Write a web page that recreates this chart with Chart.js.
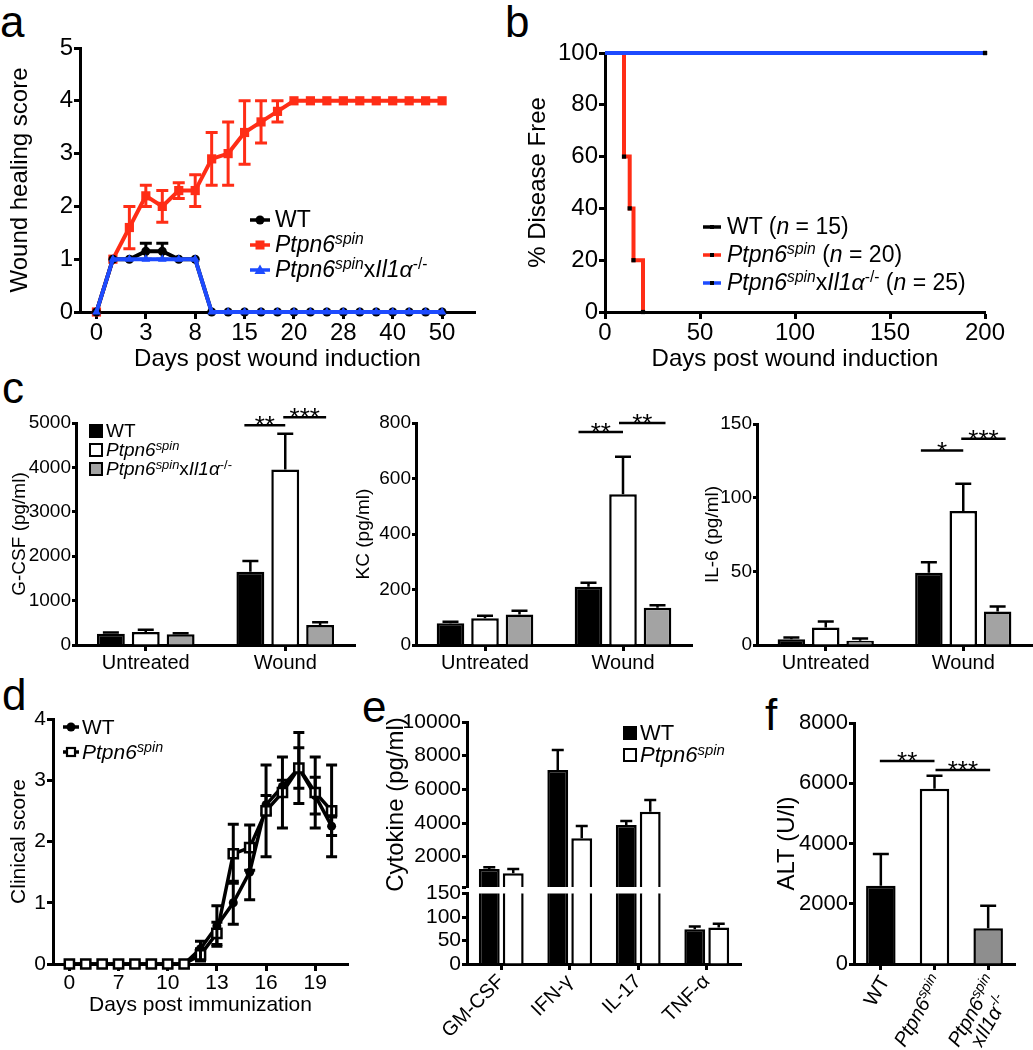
<!DOCTYPE html>
<html>
<head>
<meta charset="utf-8">
<title>Figure</title>
<script src="https://cdn.jsdelivr.net/npm/chart.js@4.4.1/dist/chart.umd.min.js"></script>
<style>
  body { margin: 0; width: 1033px; height: 1050px; position: relative; overflow: hidden; background: #fff;
         font-family: "Liberation Sans", Arial, Helvetica, sans-serif; color: #000; }
  canvas { position: absolute; }
  .letter { position: absolute; font-size: 44px; line-height: 44px; }
  .leg { position: absolute; white-space: nowrap; display: flex; align-items: center; }
  .leg sup { font-size: 0.68em; line-height: 0; vertical-align: 0.5em; }
  .box { display: inline-block; width: 10px; height: 10px; border: 2px solid #000; margin-right: 3px; }
</style>
</head>
<body>
<div class="letter" style="left:0px;top:0px">a</div>
<div class="letter" style="left:505px;top:0px">b</div>
<div class="letter" style="left:2px;top:366px">c</div>
<div class="letter" style="left:2px;top:673px">d</div>
<div class="letter" style="left:362px;top:685px">e</div>
<div class="letter" style="left:765px;top:693px">f</div>
<script>
const FONT = '"Liberation Sans", Arial, Helvetica, sans-serif';
const RED = '#ff2d16', BLUE = '#1d4bff', GREY = '#a3a3a3', DARKGREY = '#8e8e8e';

// a - wound healing score (x = measurement index, labelled with the day)
const woundDays = ['0','1','2','3','5','6','8','10','12','15','17','19','20','23','25','28','32','36','40','43','46','50'];
const woundTickIdx = [0, 3, 6, 9, 12, 15, 18, 21];
const wtScore      = [0, 1, 1, 1.15, 1.15, 1, 1, 0, 0, 0, 0, 0, 0, 0, 0, 0, 0, 0, 0, 0, 0, 0];
const wtScoreErr   = [0, 0, 0, 0.15, 0.15, 0, 0, 0, 0, 0, 0, 0, 0, 0, 0, 0, 0, 0, 0, 0, 0, 0];
const spinScore    = [0, 1, 1.6, 2.2, 2.0, 2.3, 2.3, 2.9, 3.0, 3.4, 3.6, 3.8, 4, 4, 4, 4, 4, 4, 4, 4, 4, 4];
const spinScoreErr = [0, 0, 0.4, 0.2, 0.3, 0.15, 0.3, 0.5, 0.6, 0.6, 0.4, 0.2, 0, 0, 0, 0, 0, 0, 0, 0, 0, 0];
const il1Score     = [0, 1, 1, 1, 1, 1, 1, 0, 0, 0, 0, 0, 0, 0, 0, 0, 0, 0, 0, 0, 0, 0];

// b - disease free survival
const kmWtDays = [0, 200],               kmWtFree = [100, 100];
const kmSpinDays = [0, 10, 13, 15, 20],  kmSpinFree = [100, 60, 40, 20, 0];
const kmIl1Days = [0, 200],              kmIl1Free = [100, 100];
const kmCounts = [15, 20, 25];

// c - cytokines after wounding
const treatments = ['Untreated', 'Wound'];
const gcsfWT = [255, 1650],  gcsfWTErr = [25, 240];
const gcsfSpin = [290, 3950], gcsfSpinErr = [55, 810];
const gcsfIl1 = [240, 450],  gcsfIl1Err = [25, 60];
const kcWT = [78, 210],      kcWTErr = [6, 14];
const kcSpin = [96, 543],    kcSpinErr = [9, 135];
const kcIl1 = [110, 134],    kcIl1Err = [13, 9];
const il6WT = [3.9, 49],     il6WTErr = [1.2, 7.2];
const il6Spin = [11.8, 91],  il6SpinErr = [4.1, 18.4];
const il6Il1 = [2.9, 22.7],  il6Il1Err = [1.5, 3.4];

// d - EAE clinical score
const immDays = ['0','3','5','7','8','9','10','11','12','13','14','15','16','17','18','19','20'];
const immTickIdx = [0, 3, 6, 9, 12, 15];
const wtClin      = [0, 0, 0, 0, 0, 0, 0, 0, 0.25, 0.62, 1.0, 1.5, 2.6, 2.9, 3.2, 2.75, 2.25];
const wtClinErr   = [0, 0, 0, 0, 0, 0, 0, 0, 0.12, 0.33, 0.35, 0.45, 0.15, 0.1, 0.33, 0.3, 0.15];
const spinClin    = [0, 0, 0, 0, 0, 0, 0, 0, 0.15, 0.5, 1.8, 1.9, 2.5, 2.8, 3.2, 2.8, 2.5];
const spinClinErr = [0, 0, 0, 0, 0, 0, 0, 0, 0.1, 0.18, 0.48, 0.37, 0.75, 0.58, 0.58, 0.58, 0.75];

// e - cytokines (broken axis)
const cytokines = ['GM-CSF', 'IFN-γ', 'IL-17', 'TNF-α'];
const cytoWT = [1270, 7150, 3880, 74],   cytoWTErr = [100, 1190, 240, 6];
const cytoSpin = [1010, 3090, 4670, 78], cytoSpinErr = [260, 730, 700, 8];
const cytoUpperTicks = [200, 2000, 4000, 6000, 8000, 10000];

// f - ALT
const altGroups = ['WT', '<i>Ptpn6<sup>spin</sup></i>', '<i>Ptpn6<sup>spin</sup></i><br>x<i>Il1α</i><sup>-/-</sup>'];
const altValues = [2600, 5820, 1190];
const altErr = [1050, 430, 740];

const groupHtml = ['WT', '<i>Ptpn6<sup>spin</sup></i>', '<i>Ptpn6<sup>spin</sup></i>x<i>Il1α</i><sup>-/-</sup>'];

Chart.defaults.font.family = FONT;
Chart.defaults.color = '#000';
Chart.defaults.animation = false;
Chart.defaults.events = [];
Chart.defaults.plugins.legend.display = false;
Chart.defaults.plugins.tooltip.enabled = false;

// error bars, drawn right after their own dataset
const errorBars = {
  id: 'errorBars',
  afterDatasetDraw(chart, args) {
    const ds = chart.data.datasets[args.index];
    if (!ds.errors) return;
    const meta = args.meta, ys = chart.scales[meta.yAxisID], ctx = chart.ctx;
    ctx.save();
    ctx.strokeStyle = ds.errorColor || '#000';
    ctx.lineWidth = ds.errorWidth || 2.5;
    meta.data.forEach((el, i) => {
      const d = ds.data[i];
      const v = typeof d === 'object' ? d.y : d;
      const e = ds.errors[i];
      if (!e || v < ys.min || v > ys.max) return;
      const top = ys.getPixelForValue(v + e);
      const bot = ys.getPixelForValue(ds.errorBoth ? v - e : v);
      const c = (ds.errorCap || 12) / 2;
      ctx.beginPath();
      ctx.moveTo(el.x, top); ctx.lineTo(el.x, bot);
      ctx.moveTo(el.x - c, top); ctx.lineTo(el.x + c, top);
      if (ds.errorBoth) { ctx.moveTo(el.x - c, bot); ctx.lineTo(el.x + c, bot); }
      ctx.stroke();
    });
    ctx.restore();
  }
};

// significance lines with stars
function sigPlugin(items) {
  return {
    id: 'sig',
    afterDraw(chart) {
      const ctx = chart.ctx, ys = chart.scales.y;
      ctx.save();
      ctx.strokeStyle = '#000'; ctx.fillStyle = '#000'; ctx.lineWidth = 2.5;
      ctx.textAlign = 'center'; ctx.textBaseline = 'alphabetic';
      ctx.font = '26px ' + FONT;
      items.forEach(s => {
        const a = chart.getDatasetMeta(s.a[0]).data[s.a[1]];
        const b = chart.getDatasetMeta(s.b[0]).data[s.b[1]];
        const x1 = a.x + s.pad[0], x2 = b.x + s.pad[1], py = ys.getPixelForValue(s.y);
        ctx.beginPath(); ctx.moveTo(x1, py); ctx.lineTo(x2, py); ctx.stroke();
        ctx.fillText(s.text, (x1 + x2) / 2, py + 9);
      });
      ctx.restore();
    }
  };
}

// tiny rich text helpers (italic / superscript) for canvas labels
function runsOf(html) {
  const div = document.createElement('div');
  div.innerHTML = html;
  const runs = [];
  (function walk(node, it, sup) {
    node.childNodes.forEach(n => {
      if (n.nodeType === 3) runs.push({ t: n.textContent, it, sup });
      else walk(n, it || n.tagName === 'I', sup || n.tagName === 'SUP');
    });
  })(div, false, false);
  return runs;
}
const runFont = (r, size) => (r.it ? 'italic ' : '') + (r.sup ? Math.round(size * 0.68) : size) + 'px ' + FONT;
function runsWidth(ctx, runs, size) {
  let w = 0;
  runs.forEach(r => { ctx.font = runFont(r, size); w += ctx.measureText(r.t).width; });
  return w;
}
function drawRuns(ctx, runs, x, y, size) {
  runs.forEach(r => {
    ctx.font = runFont(r, size);
    ctx.fillText(r.t, x, r.sup ? y - size * 0.38 : y);
    x += ctx.measureText(r.t).width;
  });
}

function makeCanvas(left, top, w, h) {
  const c = document.createElement('canvas');
  c.width = w; c.height = h;
  c.style.left = left + 'px'; c.style.top = top + 'px';
  c.style.width = w + 'px'; c.style.height = h + 'px';
  document.body.appendChild(c);
  return c;
}

function linY(o) {
  return {
    type: 'linear', min: o.min, max: o.max,
    afterFit: s => { s.width = o.w; },
    afterBuildTicks: o.ticks ? (s => { s.ticks = o.ticks.map(v => ({ value: v })); }) : undefined,
    ticks: { stepSize: o.step, font: { size: o.font }, padding: 1, autoSkip: false, callback: o.cb || (v => String(v)) },
    grid: { drawOnChartArea: false, tickLength: o.tick || 5, tickWidth: 3, tickColor: '#000' },
    border: { color: '#000', width: 3 },
    title: { display: !!o.title, text: o.title || '', font: { size: o.titleFont || o.font }, padding: { top: 4, bottom: 4 } }
  };
}

function idxX(o) {
  return {
    type: 'linear', min: o.min, max: o.max,
    afterFit: s => { s.height = o.h; },
    afterBuildTicks: s => { s.ticks = o.at.map(v => ({ value: v })); },
    ticks: { font: { size: o.font }, padding: 0, autoSkip: false, maxRotation: 0, callback: v => o.labels[v] },
    grid: { drawOnChartArea: false, tickLength: 7, tickWidth: 3, tickColor: '#000' },
    border: { color: '#000', width: 3 },
    title: { display: true, text: o.title, font: { size: o.font }, padding: { top: 4, bottom: 4 } }
  };
}

function catX(o) {
  return {
    type: 'category', display: o.display !== false,
    afterFit: s => { s.height = o.h; },
    grid: { offset: false, drawOnChartArea: false, tickLength: 6, tickWidth: 3, tickColor: '#000' },
    border: { color: '#000', width: 3 },
    ticks: { display: o.labels !== false, font: { size: o.font || 20 }, padding: 0, autoSkip: false,
             minRotation: o.rot || 0, maxRotation: o.rot || 0 }
  };
}

const pts = arr => arr.map((y, i) => ({ x: i, y }));

// ---------- a ----------
new Chart(makeCanvas(0, 0, 500, 378), {
  type: 'line',
  data: { datasets: [
    { data: pts(wtScore), errors: wtScoreErr, errorBoth: true, errorCap: 12, errorWidth: 3, errorColor: '#000',
      borderColor: '#000', borderWidth: 4, pointStyle: 'circle', pointRadius: 4.5, pointBorderWidth: 0,
      pointBackgroundColor: '#000', order: 1, clip: false },
    { data: pts(spinScore), errors: spinScoreErr, errorBoth: true, errorCap: 12, errorWidth: 3, errorColor: RED,
      borderColor: RED, borderWidth: 4, pointStyle: 'rect', pointRadius: 6.5, pointBorderWidth: 0,
      pointBackgroundColor: RED, order: 2, clip: false },
    { data: pts(il1Score), borderColor: BLUE, borderWidth: 4, pointStyle: 'triangle', pointRadius: 5,
      pointBorderWidth: 0, pointBackgroundColor: BLUE, order: 0, clip: false }
  ]},
  options: {
    responsive: false,
    layout: { padding: { top: 48, left: 2, right: 25, bottom: 0 } },
    scales: {
      x: idxX({ min: -1, max: 23, h: 66, at: woundTickIdx, labels: woundDays, font: 24, title: 'Days post wound induction' }),
      y: linY({ min: 0, max: 5, step: 1, w: 78, font: 24, title: 'Wound healing score', tick: 6 })
    }
  },
  plugins: [errorBars]
});

// ---------- b ----------
const kmSet = (days, free, color, order, marks) => ({
  data: days.map((x, i) => ({ x, y: free[i] })), stepped: 'before', borderColor: color, borderWidth: 4,
  pointStyle: 'rect', pointRadius: marks, pointBackgroundColor: '#000', pointBorderWidth: 0, order, clip: false
});
new Chart(makeCanvas(520, 0, 513, 378), {
  type: 'line',
  data: { datasets: [
    kmSet(kmWtDays, kmWtFree, '#000', 1, [0, 3]),
    kmSet(kmSpinDays, kmSpinFree, RED, 2, [0, 3, 3, 3, 3]),
    kmSet(kmIl1Days, kmIl1Free, BLUE, 0, [0, 3])
  ]},
  options: {
    responsive: false,
    layout: { padding: { top: 53, left: 0, right: 48, bottom: 0 } },
    scales: {
      x: { type: 'linear', min: 0, max: 200,
           afterFit: s => { s.height = 66; },
           ticks: { stepSize: 50, font: { size: 24 }, padding: 0 },
           grid: { drawOnChartArea: false, tickLength: 7, tickWidth: 3, tickColor: '#000' },
           border: { color: '#000', width: 3 },
           title: { display: true, text: 'Days post wound induction', font: { size: 24 }, padding: { top: 4, bottom: 4 } } },
      y: linY({ min: 0, max: 100, step: 20, w: 85, font: 24, title: '% Disease Free', tick: 6 })
    }
  }
});

// ---------- c ----------
const barSet = (values, errs, fill, cap, cp, bp) => ({
  data: values, errors: errs, errorCap: cap, errorWidth: 2.5, errorColor: '#000',
  backgroundColor: fill, borderColor: '#000', borderWidth: 2.5, categoryPercentage: cp, barPercentage: bp
});
function cytoPanel(g, wt, wtE, sp, spE, il, ilE, yMax, yStep, title, sig) {
  new Chart(makeCanvas(g.left, g.top, g.w, g.h), {
    type: 'bar',
    data: { labels: treatments, datasets: [
      barSet(wt, wtE, '#000', 16, 0.75, 0.8),
      barSet(sp, spE, '#fff', 16, 0.75, 0.8),
      barSet(il, ilE, GREY, 16, 0.75, 0.8)
    ]},
    options: {
      responsive: false,
      layout: { padding: g.pad },
      scales: {
        x: catX({ h: 40, font: 20 }),
        y: linY({ min: 0, max: yMax, step: yStep, w: g.yw, font: 19, title, tick: 4 })
      }
    },
    plugins: [errorBars, sigPlugin(sig)]
  });
}
cytoPanel({ left: 0, top: 380, w: 360, h: 305, yw: 72, pad: { top: 43, left: 4, right: 5, bottom: 0 } },
  gcsfWT, gcsfWTErr, gcsfSpin, gcsfSpinErr, gcsfIl1, gcsfIl1Err, 5000, 1000, 'G-CSF (pg/ml)',
  [{ a: [0, 1], b: [1, 1], y: 4950, text: '**', pad: [-6, 0] },
   { a: [1, 1], b: [2, 1], y: 5130, text: '***', pad: [-2, 6] }]);
cytoPanel({ left: 348, top: 380, w: 349, h: 305, yw: 68, pad: { top: 43, left: 0, right: 5, bottom: 0 } },
  kcWT, kcWTErr, kcSpin, kcSpinErr, kcIl1, kcIl1Err, 800, 200, 'KC (pg/ml)',
  [{ a: [0, 1], b: [1, 1], y: 768, text: '**', pad: [-10, 0] },
   { a: [1, 1], b: [2, 1], y: 800, text: '**', pad: [-4, 8] }]);
cytoPanel({ left: 697, top: 380, w: 336, h: 305, yw: 60, pad: { top: 44, left: 0, right: 1, bottom: 0 } },
  il6WT, il6WTErr, il6Spin, il6SpinErr, il6Il1, il6Il1Err, 150, 50, 'IL-6 (pg/ml)',
  [{ a: [0, 1], b: [1, 1], y: 132, text: '*', pad: [-8, 0] },
   { a: [1, 1], b: [2, 1], y: 140, text: '***', pad: [-2, 8] }]);

// ---------- d ----------
new Chart(makeCanvas(0, 690, 360, 332), {
  type: 'line',
  data: { datasets: [
    { data: pts(wtClin), errors: wtClinErr, errorBoth: true, errorCap: 11, errorWidth: 3, errorColor: '#000',
      borderColor: '#000', borderWidth: 3.5, pointStyle: 'circle', pointRadius: 4.5, pointBorderWidth: 0,
      pointBackgroundColor: '#000', order: 1, clip: false },
    { data: pts(spinClin), errors: spinClinErr, errorBoth: true, errorCap: 11, errorWidth: 3, errorColor: '#000',
      borderColor: '#000', borderWidth: 3.5, pointStyle: 'rect', pointRadius: 6.5, pointBorderWidth: 2.5,
      pointBorderColor: '#000', pointBackgroundColor: '#fff', order: 0, clip: false }
  ]},
  options: {
    responsive: false,
    layout: { padding: { top: 29, left: 3, right: 12, bottom: 0 } },
    scales: {
      x: idxX({ min: -1, max: 17, h: 58, at: immTickIdx, labels: immDays, font: 21, title: 'Days post immunization' }),
      y: linY({ min: 0, max: 4, step: 1, w: 50, font: 21, title: 'Clinical score', tick: 6 })
    }
  },
  plugins: [errorBars]
});

// ---------- e (two stacked charts make the broken axis) ----------
const eSets = () => [
  Object.assign(barSet(cytoWT, cytoWTErr, '#000', 12, 0.7, 0.87), { clip: 0 }),
  Object.assign(barSet(cytoSpin, cytoSpinErr, '#fff', 12, 0.7, 0.87), { clip: 0 })
];
new Chart(makeCanvas(378, 690, 382, 222), {
  type: 'bar',
  data: { labels: cytokines, datasets: eSets() },
  options: {
    responsive: false,
    layout: { padding: { top: 32, left: 0, right: 19, bottom: 25 } },
    scales: {
      x: catX({ display: false, h: 0 }),
      y: linY({ min: 200, max: 10000, w: 89, font: 21, title: 'Cytokine (pg/ml)', titleFont: 24, tick: 5,
                ticks: cytoUpperTicks, cb: v => (v === cytoUpperTicks[0] ? '' : String(v)) })
    }
  },
  plugins: [errorBars]
});
new Chart(makeCanvas(378, 880, 382, 170), {
  type: 'bar',
  data: { labels: cytokines, datasets: eSets() },
  options: {
    responsive: false,
    layout: { padding: { top: 13, left: 0, right: 19, bottom: 0 } },
    scales: {
      x: catX({ h: 86, font: 20, rot: 45 }),
      y: linY({ min: 0, max: 150, step: 50, w: 89, font: 21, tick: 5 })
    }
  },
  plugins: [errorBars]
});

// ---------- f ----------
const altLabels = {
  id: 'altLabels',
  afterDraw(chart) {
    const ctx = chart.ctx, xs = chart.scales.x, size = 20;
    altGroups.forEach((lab, i) => {
      const lines = lab.split('<br>').map(runsOf);
      const ws = lines.map(r => runsWidth(ctx, r, size));
      const W = Math.max(...ws);
      ctx.save();
      ctx.translate(xs.getPixelForTick(i) + 3, xs.top + 13);
      ctx.rotate(-Math.PI / 3);
      ctx.fillStyle = '#000'; ctx.textAlign = 'left'; ctx.textBaseline = 'alphabetic';
      lines.forEach((r, j) => drawRuns(ctx, r, -W + (W - ws[j]) / 2, size * 0.36 + j * size, size));
      ctx.restore();
    });
  }
};
new Chart(makeCanvas(769, 690, 264, 360), {
  type: 'bar',
  data: { labels: altGroups, datasets: [
    barSet(altValues, altErr, ['#000', '#fff', DARKGREY], 16, 1, 0.55)
  ]},
  options: {
    responsive: false,
    layout: { padding: { top: 33, left: 0, right: 18, bottom: 0 } },
    scales: {
      x: catX({ h: 86, labels: false }),
      y: linY({ min: 0, max: 8000, step: 2000, w: 85, font: 22, title: 'ALT (U/l)', titleFont: 24, tick: 5 })
    }
  },
  plugins: [errorBars, altLabels, sigPlugin([
    { a: [0, 0], b: [0, 1], y: 6740, text: '**', pad: [-1, 0] },
    { a: [0, 1], b: [0, 2], y: 6440, text: '***', pad: [1, 2] }
  ])]
});

// ---------- legends (html text with italics / superscripts) ----------
const lineMark = (color, shape, w, gap) => {
  const m = w / 2;
  const s = shape === 'circle' ? `<circle cx="${m}" cy="7" r="4.5" fill="${color}"/>`
    : shape === 'square' ? `<rect x="${m - 4.5}" y="2.5" width="9" height="9" fill="${color}"/>`
    : shape === 'open' ? `<rect x="${m - 4}" y="3" width="8" height="8" fill="#fff" stroke="#000" stroke-width="2.2"/>`
    : shape === 'triangle' ? `<polygon points="${m},1.5 ${m + 5.5},11 ${m - 5.5},11" fill="${color}"/>`
    : `<rect x="${m - 2}" y="5" width="4" height="4" fill="#000"/>`;
  return `<svg width="${w}" height="14" style="margin-right:${gap}px"><line x1="0" y1="7" x2="${w}" y2="7" stroke="${color}" stroke-width="3.5"/>${s}</svg>`;
};
const boxMark = fill => `<span class="box" style="background:${fill}"></span>`;
function legend(x, y0, dy, size, rows) {
  rows.forEach((r, i) => {
    const d = document.createElement('div');
    d.className = 'leg';
    d.style.left = x + 'px';
    d.style.top = (y0 + i * dy - size * 0.6) + 'px';
    d.style.fontSize = size + 'px';
    d.style.lineHeight = (size * 1.2) + 'px';
    d.innerHTML = r[0] + '<span>' + r[1] + '</span>';
    document.body.appendChild(d);
  });
}
legend(250, 220, 25, 23, [
  [lineMark('#000', 'circle', 20, 5), groupHtml[0]],
  [lineMark(RED, 'square', 20, 5), groupHtml[1]],
  [lineMark(BLUE, 'triangle', 20, 5), groupHtml[2]]
]);
legend(703, 227, 28, 23, [0, 1, 2].map(i => [
  lineMark(['#000', RED, BLUE][i], 'tick', 18, 6),
  groupHtml[i] + ' (<i>n</i> = ' + kmCounts[i] + ')'
]));
legend(89, 431, 19, 19, [
  [boxMark('#000'), groupHtml[0]], [boxMark('#fff'), groupHtml[1]], [boxMark(GREY), groupHtml[2]]
]);
legend(63, 727, 25, 21, [
  [lineMark('#000', 'circle', 16, 3), groupHtml[0]],
  [lineMark('#000', 'open', 16, 3), groupHtml[1]]
]);
legend(623, 733, 22, 22, [
  [boxMark('#000'), groupHtml[0]], [boxMark('#fff'), groupHtml[1]]
]);
</script>
</body>
</html>
